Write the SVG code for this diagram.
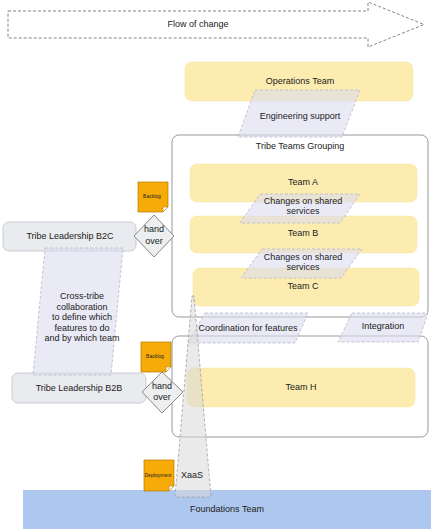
<svg xmlns="http://www.w3.org/2000/svg" width="433" height="531" viewBox="0 0 433 531">
<style>
text{font-family:"Liberation Sans","DejaVu Sans",sans-serif;font-size:9px;fill:#222;text-anchor:middle;dominant-baseline:middle}
.team{fill:#fcecb0;stroke:#f5e2a0;stroke-width:0.5}
.cont{fill:#fff;stroke:#999;stroke-width:1}
.lead{fill:#e9ebee;stroke:#c8ccd2;stroke-width:1}
.bridge{fill:#dcdcf0;fill-opacity:0.6;stroke:#b8b8c8;stroke-width:0.8;stroke-dasharray:3 2}
.beam{fill:#d8d8d8;fill-opacity:0.55;stroke:#a0a0a0;stroke-width:0.8;stroke-dasharray:3 2}
.note{fill:#f7ab08;stroke:#b07a00;stroke-width:0.7}
.fold{fill:#fff;stroke:#b07a00;stroke-width:0.5}
.dia{fill:#eceef0;stroke:#888;stroke-width:1}
.tiny{font-size:5px}
</style>
<g id="flow">
<path d="M8,11 H368 V2 L424,24.5 L368,47 V38 H8 Z" fill="none" stroke="#666" stroke-width="0.8" stroke-dasharray="3 2"/>
<text x="198" y="25">Flow of change</text>
</g>
<g id="foundations">
<rect x="23" y="490" width="408" height="39" fill="#aec7ef"/>
<text x="227" y="510">Foundations Team</text>
</g>
<g id="ops">
<rect class="team" x="185" y="62" width="228" height="39" rx="7"/>
<text x="300" y="82">Operations Team</text>
</g>
<g id="tribe-grouping">
<rect class="cont" x="172" y="135" width="256" height="182" rx="7"/>
<text x="300" y="147">Tribe Teams Grouping</text>
</g>
<g id="team-a">
<rect class="team" x="190" y="164" width="227" height="38" rx="7"/>
<text x="303" y="183">Team A</text>
</g>
<g id="team-b">
<rect class="team" x="190" y="216" width="227" height="37" rx="7"/>
<text x="303" y="234">Team B</text>
</g>
<g id="team-c">
<rect class="team" x="193" y="268" width="226" height="38" rx="7"/>
<text x="303" y="287">Team C</text>
</g>
<g id="h-grouping">
<rect class="cont" x="172" y="336" width="256" height="101" rx="7"/>
</g>
<g id="team-h">
<rect class="team" x="187" y="368" width="228" height="39" rx="7"/>
<text x="301" y="388">Team H</text>
</g>
<g id="leadership-b2c">
<rect class="lead" x="3" y="222" width="133" height="29" rx="6"/>
<text x="70" y="237">Tribe Leadership B2C</text>
</g>
<g id="leadership-b2b">
<rect class="lead" x="12" y="373" width="134" height="30" rx="6"/>
<text x="79" y="389">Tribe Leadership B2B</text>
</g>
<g id="connectors">
<g id="engineering-support">
<path class="bridge" d="M255,90 H360 L342,137 H238 Z"/>
<text x="300" y="117">Engineering support</text>
</g>
<g id="changes-1">
<path class="bridge" d="M260,194 H360 L340,223 H240 Z"/>
<text x="303" y="202">Changes on shared</text>
<text x="303" y="212">services</text>
</g>
<g id="changes-2">
<path class="bridge" d="M262,249 H362 L341,278 H241 Z"/>
<text x="303" y="258">Changes on shared</text>
<text x="303" y="268">services</text>
</g>
<g id="cross-tribe">
<path class="bridge" d="M45,248 H123 L111,375 H33 Z"/>
<text x="82" y="297">Cross-tribe</text>
<text x="82" y="307.5">collaboration</text>
<text x="82" y="318">to define which</text>
<text x="82" y="328.5">features to do</text>
<text x="82" y="339">and by which team</text>
</g>
<g id="coordination">
<path class="bridge" d="M205,313 H308 L295,343 H188 Z"/>
<text x="248" y="329">Coordination for features</text>
</g>
<g id="integration">
<path class="bridge" d="M352,313 H428 L418,342 H338 Z"/>
<text x="383" y="327">Integration</text>
</g>
<g id="xaas">
<path class="beam" d="M192,296 L194,296 L211,497 L175,497 Z"/>
<text x="192" y="476">XaaS</text>
</g>
</g>
<g id="backlog-1">
<path class="note" d="M138,182 H168 V207 L163,212 H138 Z"/>
<path class="fold" d="M168,207 L163,212 V207 Z"/>
<text class="tiny" x="152" y="197">Backlog</text>
</g>
<g id="handover-1">
<path class="dia" d="M154,215 L174,236 L154,257 L134,236 Z"/>
<text x="154" y="230">hand</text>
<text x="154" y="242">over</text>
</g>
<g id="backlog-2">
<path class="note" d="M141,342 H171 V367 L166,372 H141 Z"/>
<path class="fold" d="M171,367 L166,372 V367 Z"/>
<text class="tiny" x="155" y="357">Backlog</text>
</g>
<g id="handover-2">
<path class="dia" d="M162,372 L183,392 L162,413 L142,392 Z"/>
<text x="162" y="387">hand</text>
<text x="162" y="398">over</text>
</g>
<g id="deployment">
<path class="note" d="M144,460 H174 V486 L169,491 H144 Z"/>
<path class="fold" d="M174,486 L169,491 V486 Z"/>
<text class="tiny" x="158" y="476">Deployment</text>
</g>
</svg>
